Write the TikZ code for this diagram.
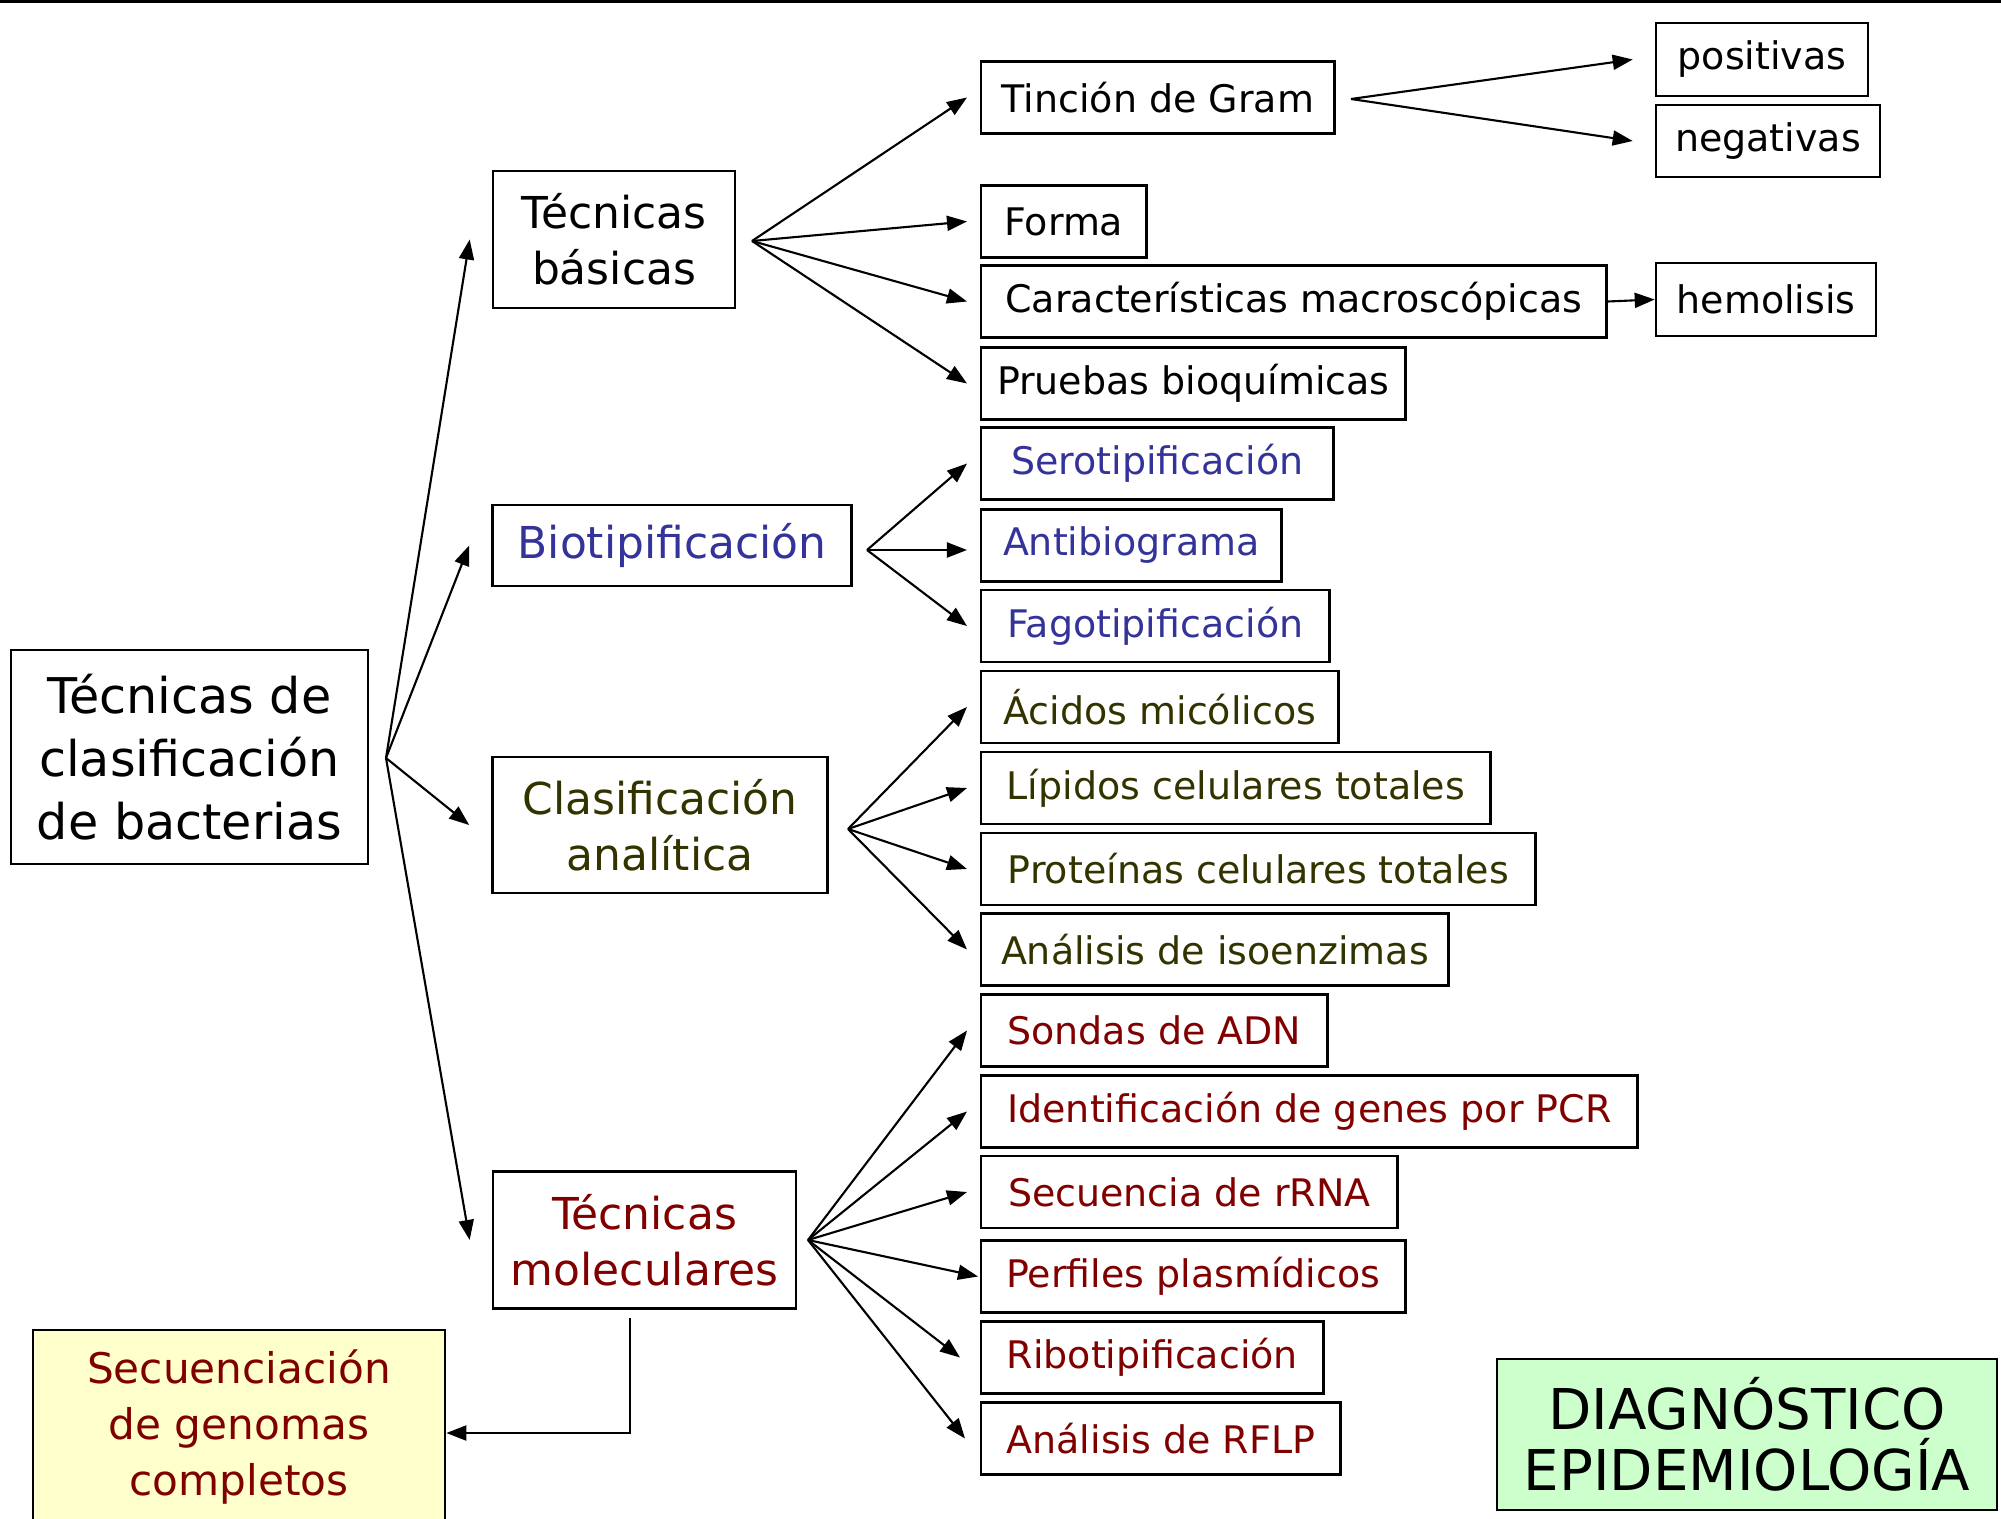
\documentclass[tikz,border=0pt]{standalone}
\usepackage{fontspec}
\setmainfont{DejaVu Sans}
\usetikzlibrary{positioning,arrows.meta,calc}
\usepackage{xcolor}
\definecolor{biotblue}{RGB}{51,51,153}
\definecolor{analolive}{RGB}{51,51,0}
\definecolor{molecred}{RGB}{128,0,0}
\definecolor{genyellow}{RGB}{255,255,204}
\definecolor{diaggreen}{RGB}{204,255,204}

\tikzset{
  box/.style={draw, line width=0.7pt, inner sep=0pt, align=center},
  leaf/.style={box, anchor=west, minimum height=0.72cm, font=\fontsize{10.8}{13}\selectfont},
  branch/.style={box, font=\fontsize{12.5}{16}\selectfont},
  link/.style={line width=0.6pt, -{Triangle[length=0.2cm,width=0.15cm]}}
}

\begin{document}
\begin{tikzpicture}[x=0.01cm, y=-0.01cm]
        \clip (0,0) rectangle (2001,1519);
        % Top rule
        \fill (0,0) rectangle (2001,3.5);

        % Root
        \node[box, minimum width=3.57cm, minimum height=2.14cm, font=\fontsize{14}{18}\selectfont] (root) at (189.5,757) {Técnicas de\\clasificación\\de bacterias};
        \coordinate (fanroot) at (386,758);

        % Branches
        \node[branch, minimum width=2.42cm, minimum height=1.37cm] (basicas) at (614,239.5) {Técnicas\\básicas};
        \node[branch, minimum width=3.59cm, minimum height=0.81cm, text=biotblue] (biotip) at (672,545.5) {Biotipificación};
        \node[branch, minimum width=3.35cm, minimum height=1.36cm, text=analolive] (analit) at (660,825) {Clasificación\\analítica};
        \node[branch, minimum width=3.03cm, minimum height=1.37cm, text=molecred] (molec) at (644.5,1240) {Técnicas\\moleculares};

        \draw[link] (fanroot) -- ([xshift=-0.22cm]basicas.west);
        \draw[link] (fanroot) -- ([xshift=-0.22cm]biotip.west);
        \draw[link] (fanroot) -- ([xshift=-0.22cm]analit.west);
        \draw[link] (fanroot) -- ([xshift=-0.22cm]molec.west);

        % Técnicas básicas
        \node[leaf, minimum width=3.53cm] (gram) at (980,97.5) {Tinción de Gram};
        \node[leaf, minimum width=1.65cm] (forma) at (980,221.5) {Forma};
        \node[leaf, minimum width=6.25cm] (macro) at (980,301.5) {Características macroscópicas};
        \node[leaf, minimum width=4.24cm] (bioq) at (980,383.5) {Pruebas bioquímicas};
        \coordinate (fanbas) at (752,241);
        \draw[link] (fanbas) -- ([xshift=-0.13cm]gram.west);
        \draw[link] (fanbas) -- ([xshift=-0.13cm]forma.west);
        \draw[link] (fanbas) -- ([xshift=-0.13cm]macro.west);
        \draw[link] (fanbas) -- ([xshift=-0.13cm]bioq.west);

        % Gram and hemolisis
        \node[box, minimum width=2.12cm, minimum height=0.73cm, font=\fontsize{10.8}{13}\selectfont] (positivas) at (1762,59.5) {positivas};
        \node[box, minimum width=2.24cm, minimum height=0.72cm, font=\fontsize{10.8}{13}\selectfont] (negativas) at (1768,141) {negativas};
        \node[box, minimum width=2.20cm, minimum height=0.73cm, font=\fontsize{10.8}{13}\selectfont] (hemolisis) at (1766,299.5) {hemolisis};
        \coordinate (fangram) at (1351,99);
        \draw[link] (fangram) -- ([xshift=-0.22cm]positivas.west);
        \draw[link] (fangram) -- ([xshift=-0.22cm]negativas.west);
        \draw[link] (macro.east) -- (hemolisis.west);

        % Biotipificación
        \node[leaf, minimum width=3.52cm, text=biotblue] (sero) at (980,463.5) {Serotipificación};
        \node[leaf, minimum width=3.00cm, text=biotblue] (antib) at (980,545.5) {Antibiograma};
        \node[leaf, minimum width=3.48cm, text=biotblue] (fago) at (980,626) {Fagotipificación};
        \coordinate (fanbio) at (867,550);
        \draw[link] (fanbio) -- ([xshift=-0.13cm]sero.west);
        \draw[link] (fanbio) -- ($(antib.west |- fanbio)+(-0.13cm,0)$);
        \draw[link] (fanbio) -- ([xshift=-0.13cm]fago.west);

        % Clasificación analítica
        \node[leaf, minimum width=3.57cm, text=analolive] (acidos) at (980,707) {Ácidos micólicos};
        \node[leaf, minimum width=5.09cm, text=analolive] (lipidos) at (980,788) {Lípidos celulares totales};
        \node[leaf, minimum width=5.54cm, text=analolive] (proteinas) at (980,869) {Proteínas celulares totales};
        \node[leaf, minimum width=4.67cm, text=analolive] (isoenz) at (980,949.5) {Análisis de isoenzimas};
        \coordinate (fanana) at (848,829);
        \draw[link] (fanana) -- ([xshift=-0.13cm]acidos.west);
        \draw[link] (fanana) -- ([xshift=-0.13cm]lipidos.west);
        \draw[link] (fanana) -- ([xshift=-0.13cm]proteinas.west);
        \draw[link] (fanana) -- ([xshift=-0.13cm]isoenz.west);

        % Técnicas moleculares
        \node[leaf, minimum width=3.46cm, text=molecred] (sondas) at (980,1030.5) {Sondas de ADN};
        \node[leaf, minimum width=6.56cm, text=molecred] (pcr) at (980,1111.5) {Identificación de genes por PCR};
        \node[leaf, minimum width=4.16cm, text=molecred] (rrna) at (980,1192) {Secuencia de rRNA};
        \node[leaf, minimum width=4.24cm, text=molecred] (plasm) at (980,1276.5) {Perfiles plasmídicos};
        \node[leaf, minimum width=3.42cm, text=molecred] (ribo) at (980,1357.5) {Ribotipificación};
        \node[leaf, minimum width=3.59cm, text=molecred] (rflp) at (980,1438.5) {Análisis de RFLP};
        \coordinate (fanmol) at (808,1240);
        \draw[link] (fanmol) -- ([xshift=-0.13cm]sondas.west);
        \draw[link] (fanmol) -- ([xshift=-0.13cm]pcr.west);
        \draw[link] (fanmol) -- ([xshift=-0.13cm]rrna.west);
        \draw[link] (fanmol) -- ([xshift=-0.02cm]plasm.west);
        \draw[link] (fanmol) -- ([xshift=-0.2cm]ribo.west);
        \draw[link] (fanmol) -- ([xshift=-0.15cm]rflp.west);

        % Genomas completos
        \node[box, fill=genyellow, minimum width=4.12cm, minimum height=1.94cm, text=molecred, font=\fontsize{12}{16}\selectfont] (genomas) at (239,1427) {Secuenciación\\de genomas\\completos};
        \coordinate (drop) at (630,1318);
        \draw[link] (drop) |- ([yshift=-0.06cm]genomas.east);

        % Diagnóstico
        \node[box, fill=diaggreen, minimum width=5.00cm, minimum height=1.51cm, font=\fontsize{16}{17.4}\selectfont] (diag) at (1747,1434.5) {DIAGNÓSTICO\\EPIDEMIOLOGÍA};
\end{tikzpicture}
\end{document}
